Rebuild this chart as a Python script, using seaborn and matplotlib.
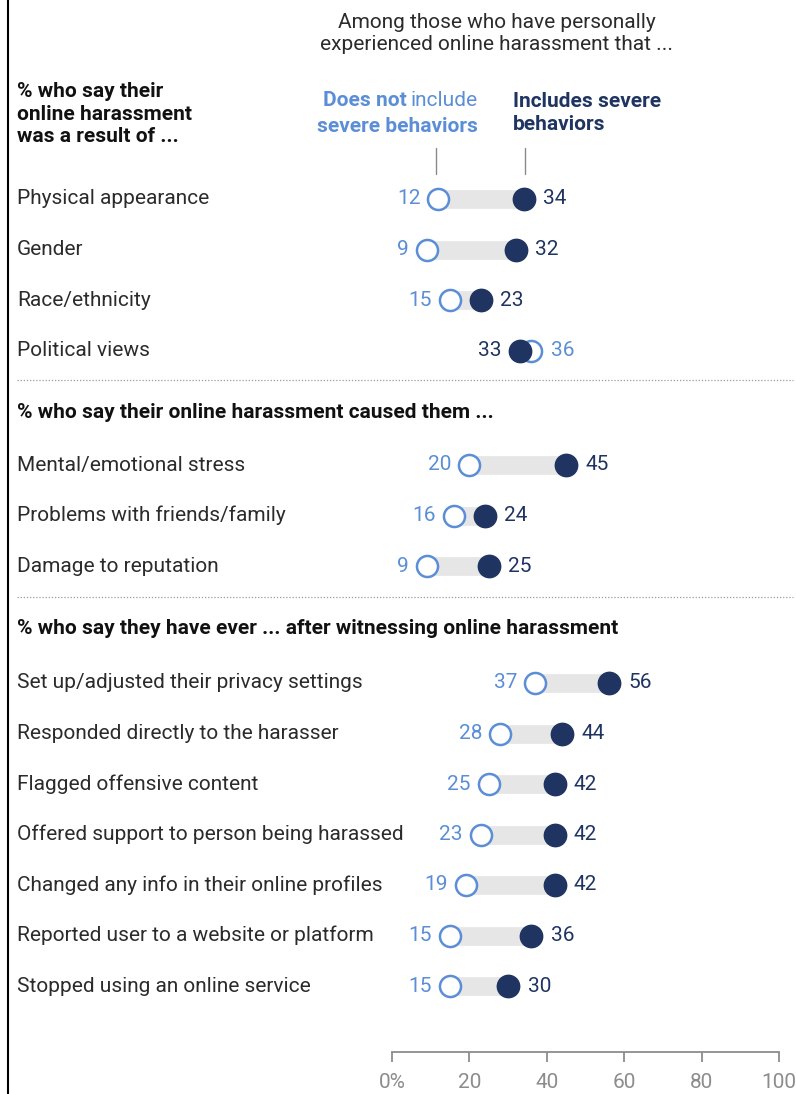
import numpy as np
import pandas as pd
import seaborn as sns
import matplotlib.pyplot as plt
import matplotlib.transforms as mtransforms
from matplotlib.lines import Line2D

# chart data
items = [
    'Physical appearance', 'Gender', 'Race/ethnicity', 'Political views',
    'Mental/emotional stress', 'Problems with friends/family', 'Damage to reputation',
    'Set up/adjusted their privacy settings', 'Responded directly to the harasser',
    'Flagged offensive content', 'Offered support to person being harassed',
    'Changed any info in their online profiles', 'Reported user to a website or platform',
    'Stopped using an online service',
]
section = [0, 0, 0, 0, 1, 1, 1, 2, 2, 2, 2, 2, 2, 2]
not_severe = [12, 9, 15, 36, 20, 16, 9, 37, 28, 25, 23, 19, 15, 15]
severe = [34, 32, 23, 33, 45, 24, 25, 56, 44, 42, 42, 42, 36, 30]
section_titles = [
    '% who say their\nonline harassment\nwas a result of ...',
    '% who say their online harassment caused them ...',
    '% who say they have ever ... after witnessing online harassment',
]
x_ticks = [0, 20, 40, 60, 80, 100]
x_tick_labels = ['0%', '20', '40', '60', '80', '100']

LIGHT = '#5b8ed6'
DARK = '#1f3461'
TEXT = '#2b2b2b'
BAR = '#e6e6e6'

sns.set_theme(style='white')
plt.rcParams['font.family'] = ['Roboto', 'DejaVu Sans']

W, H = 796, 1094
fig = plt.figure(figsize=(W / 100, H / 100), dpi=100)
ax = fig.add_axes([392 / W, 0, 387 / W, 1])
ax.set_xlim(0, 100)
ax.set_ylim(H, 0)
# pixel transform for free text (x, y measured from top-left)
px = mtransforms.Affine2D().scale(1 / W, -1 / H).translate(0, 1) + fig.transFigure

# row layout: pixel y of each row
sec_start = [199, 465, 683]
step = 50.5
counts = {}
ypos = []
for s in section:
    k = counts.get(s, 0)
    ypos.append(sec_start[s] + k * step)
    counts[s] = k + 1

df = pd.DataFrame({'item': items, 'y': ypos, 'not_severe': not_severe, 'severe': severe})

# gray range bars
ax.hlines(df['y'], df[['not_severe', 'severe']].min(axis=1), df[['not_severe', 'severe']].max(axis=1),
          color=BAR, linewidth=13.5, zorder=1)

sns.scatterplot(data=df, x='not_severe', y='y', ax=ax, s=230, color='white',
                edgecolor=LIGHT, linewidth=1.8, zorder=2, clip_on=False, legend=False)
sns.scatterplot(data=df, x='severe', y='y', ax=ax, s=260, color=DARK,
                edgecolor=DARK, linewidth=1, zorder=3, clip_on=False, legend=False)

# value labels
for _, r in df.iterrows():
    lo_is_ns = r['not_severe'] <= r['severe']
    lo, hi = (r['not_severe'], r['severe']) if lo_is_ns else (r['severe'], r['not_severe'])
    lo_c, hi_c = (LIGHT, DARK) if lo_is_ns else (DARK, LIGHT)
    ax.annotate(f'{lo:g}', (lo, r['y']), xytext=(-13, 0), textcoords='offset points',
                ha='right', va='center', fontsize=15, color=lo_c)
    ax.annotate(f'{hi:g}', (hi, r['y']), xytext=(14, 0), textcoords='offset points',
                ha='left', va='center', fontsize=15, color=hi_c)
    fig.text(17, r['y'], r['item'], transform=px, ha='left', va='center',
             fontsize=15, color=TEXT)

# section headers and separators
fig.text(17, 114, section_titles[0], transform=px, ha='left', va='center',
         fontsize=15, fontweight='bold', color='#111111', linespacing=1.25)
fig.text(17, 413, section_titles[1], transform=px, ha='left', va='center',
         fontsize=15, fontweight='bold', color='#111111')
fig.text(17, 629, section_titles[2], transform=px, ha='left', va='center',
         fontsize=15, fontweight='bold', color='#111111')
for yy in [380, 597]:
    fig.add_artist(Line2D([17 / W, 793 / W], [1 - yy / H, 1 - yy / H], color='#9a9a9a',
                          linestyle=(0, (1, 1.5)), linewidth=0.9))

# top header
fig.text(497, 34, 'Among those who have personally\nexperienced online harassment that ...',
         transform=px, ha='center', va='center', fontsize=15, color=TEXT, linespacing=1.2)

# legend text
t_inc = fig.text(478, 100, 'include', transform=px, ha='right', va='center',
                 fontsize=15, color=LIGHT)
fig.canvas.draw()
bb = t_inc.get_window_extent()
fig.text(bb.x0 - 4, H - 100, 'Does not', transform=None, ha='right', va='center',
         fontsize=15, fontweight='bold', color=LIGHT)
fig.text(478, 127, 'severe behaviors', transform=px, ha='right', va='center',
         fontsize=15, fontweight='bold', color=LIGHT)
fig.text(513, 113, 'Includes severe\nbehaviors', transform=px, ha='left', va='center',
         fontsize=15, fontweight='bold', color=DARK, linespacing=1.25)
for xx in [436, 525]:
    fig.add_artist(Line2D([xx / W, xx / W], [1 - 148 / H, 1 - 174 / H], color='#8a8a8a', linewidth=1))

# left border
fig.add_artist(Line2D([8 / W, 8 / W], [0, 1], color='black', linewidth=1.5))

# x axis
for sp in ['top', 'right', 'left']:
    ax.spines[sp].set_visible(False)
ax.spines['bottom'].set_position(('data', 1052))
ax.spines['bottom'].set_color('#8c8c8c')
ax.spines['bottom'].set_linewidth(1.3)
ax.set_xticks(x_ticks)
ax.set_xticklabels(x_tick_labels)
ax.tick_params(axis='x', direction='out', length=7, width=1.3, color='#8c8c8c',
               labelcolor='#8c8c8c', labelsize=15, pad=8, bottom=True)
ax.set_yticks([])
ax.set_xlabel('')
ax.set_ylabel('')
ax.patch.set_alpha(0)

fig.savefig('out.png', dpi=100)
